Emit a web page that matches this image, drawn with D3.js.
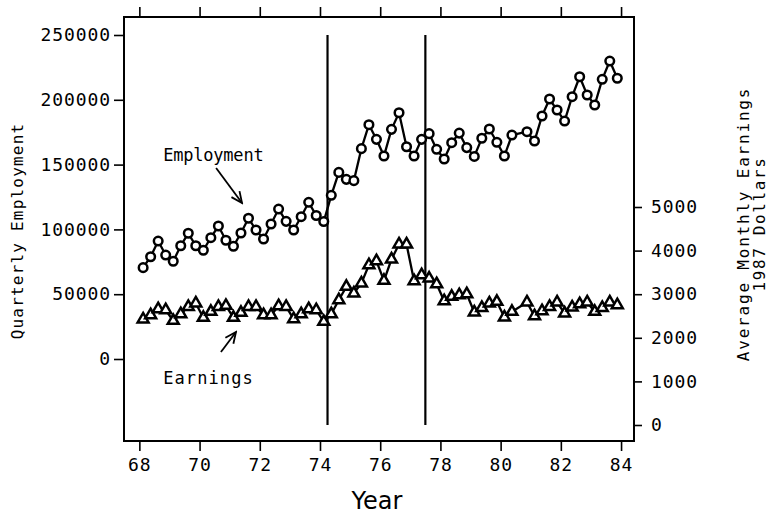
<!DOCTYPE html>
<html>
<head>
<meta charset="utf-8">
<script src="https://cdn.jsdelivr.net/npm/d3@7"></script>
<style>
  body { margin: 0; background: #fff; }
  svg { display: block; }
  .tick text { font-family: "DejaVu Sans Mono", monospace; font-size: 18px; letter-spacing: 0.9px; fill: #000; }
  .tick line { stroke: #000; stroke-width: 1.6; }
  .lbl { font-family: "DejaVu Sans Mono", monospace; font-size: 16px; fill: #000; }
</style>
</head>
<body>
<svg width="770" height="514"></svg>
<script>
// quarterly observations, centred in each quarter, 1968 - 1983
const quarters = d3.range(68, 84, 0.25).map(t => t + 0.125);

// quarterly employment (left axis); null = no marker visible
const employment = [
  70500, 78900, 91000, 80200, 75400, 87400, 97000, 87400,
  83900, 93600, 102600, 91600, 87000, 97200, 108600, 99500,
  92600, 104200, 115700, 106200, 99500, 109800, 120900, 110700,
  106100, 126300, 144000, 138600, 137600, 162300, 180800, 169500,
  156600, 177200, 190000, 163800, 156600, 169500, 173900, 161800,
  154300, 166900, 174300, 163100, 156300, 170300, 177500, 167200,
  156600, 172800, null, 175400, 168200, 187500, 200600, 192100,
  183600, 202400, 217800, 203700, 196000, 215800, 229900, 216600
];

// average monthly earnings, 1987 dollars (right axis)
const earnings = [
  2424, 2523, 2661, 2638, 2392, 2546, 2713, 2791,
  2461, 2599, 2713, 2736, 2461, 2576, 2713, 2713,
  2523, 2523, 2729, 2713, 2431, 2546, 2661, 2638,
  2369, 2546, 2867, 3172, 3021, 3250, 3670, 3760,
  3310, 3800, 4144, 4144, 3303, 3440, 3364, 3234,
  2844, 2943, 2982, 3005, 2585, 2690, 2791, 2828,
  2470, 2599, null, 2814, 2500, 2615, 2713, 2814,
  2562, 2700, 2775, 2814, 2599, 2690, 2814, 2752
];

const yearTicks = [68, 70, 72, 74, 76, 78, 80, 82, 84];
const empTicks = [0, 50000, 100000, 150000, 200000, 250000];
const earnTicks = [0, 1000, 2000, 3000, 4000, 5000];
const breaks = [74.25, 77.5];

const svg = d3.select("svg");

const x = d3.scaleLinear().domain([67.49, 84.43]).range([124, 634]);
const yEmp = d3.scaleLinear().domain([0, 250000]).range([359, 35]);
const yEarn = d3.scaleLinear().domain([0, 5000]).range([425, 207]);

const empData = quarters.map((t, i) => ({ t, v: employment[i] })).filter(d => d.v != null);
const earnData = quarters.map((t, i) => ({ t, v: earnings[i] })).filter(d => d.v != null);

// axes
svg.append("g")
    .attr("transform", "translate(124,0)")
    .call(d3.axisLeft(yEmp).tickValues(empTicks).tickSize(10).tickPadding(3).tickFormat(d3.format("d")))
    .call(g => g.select(".domain").remove());

svg.append("g")
    .attr("transform", "translate(634,0)")
    .call(d3.axisRight(yEarn).tickValues(earnTicks).tickSize(8).tickPadding(9).tickFormat(d3.format("d")))
    .call(g => g.select(".domain").remove());

svg.append("g")
    .attr("transform", "translate(0,441)")
    .call(d3.axisBottom(x).tickValues(yearTicks).tickSize(10).tickPadding(7).tickFormat(d3.format("d")))
    .call(g => g.select(".domain").remove());

svg.append("g")
    .attr("transform", "translate(0,17)")
    .call(d3.axisTop(x).tickValues(yearTicks).tickSize(10).tickFormat(""))
    .call(g => g.select(".domain").remove());

// frame
svg.append("rect")
    .attr("x", 124).attr("y", 17)
    .attr("width", 510).attr("height", 424)
    .attr("fill", "none").attr("stroke", "#000").attr("stroke-width", 2);

// break lines
svg.selectAll(".brk")
    .data(breaks)
    .enter().append("line")
    .attr("class", "brk")
    .attr("x1", d => x(d)).attr("x2", d => x(d))
    .attr("y1", yEmp(250000)).attr("y2", yEarn(0))
    .attr("stroke", "#000").attr("stroke-width", 2.2);

// series lines
svg.append("path")
    .datum(empData)
    .attr("fill", "none").attr("stroke", "#000").attr("stroke-width", 2.3)
    .attr("d", d3.line().x(d => x(d.t)).y(d => yEmp(d.v)));

svg.append("path")
    .datum(earnData)
    .attr("fill", "none").attr("stroke", "#000").attr("stroke-width", 2.3)
    .attr("d", d3.line().x(d => x(d.t)).y(d => yEarn(d.v)));

// markers
svg.selectAll(".emp")
    .data(empData)
    .enter().append("circle")
    .attr("class", "emp")
    .attr("cx", d => x(d.t)).attr("cy", d => yEmp(d.v))
    .attr("r", 4.3)
    .attr("fill", "#fff").attr("stroke", "#000").attr("stroke-width", 2.5);

const tri = d3.symbol().type(d3.symbolTriangle).size(52);
svg.selectAll(".earn")
    .data(earnData)
    .enter().append("path")
    .attr("class", "earn")
    .attr("transform", d => `translate(${x(d.t)},${yEarn(d.v)})`)
    .attr("d", tri)
    .attr("fill", "#fff").attr("stroke", "#000").attr("stroke-width", 2.5);

// arrow marker
svg.append("defs").append("marker")
    .attr("id", "arr")
    .attr("viewBox", "-12 -7 14 14")
    .attr("refX", 0).attr("refY", 0)
    .attr("markerWidth", 14).attr("markerHeight", 14)
    .attr("markerUnits", "userSpaceOnUse")
    .attr("orient", "auto")
    .append("path")
    .attr("d", "M-11,-5L0,0L-11,5")
    .attr("fill", "none").attr("stroke", "#000").attr("stroke-width", 1.8);

// annotations
svg.append("text")
    .attr("class", "lbl")
    .attr("x", x(68.79)).attr("y", yEmp(157400))
    .attr("dominant-baseline", "central")
    .style("font-size", "17px")
    .style("letter-spacing", "-0.2px")
    .text("Employment");

svg.append("line")
    .attr("x1", x(70.55)).attr("y1", yEmp(147400))
    .attr("x2", x(71.41)).attr("y2", yEmp(120400))
    .attr("stroke", "#000").attr("stroke-width", 1.8)
    .attr("marker-end", "url(#arr)");

svg.append("text")
    .attr("class", "lbl")
    .attr("x", x(68.79)).attr("y", yEarn(1078))
    .attr("dominant-baseline", "central")
    .style("font-size", "17px")
    .style("letter-spacing", "1.1px")
    .text("Earnings");

svg.append("line")
    .attr("x1", x(70.71)).attr("y1", yEarn(1674))
    .attr("x2", x(71.21)).attr("y2", yEarn(2133))
    .attr("stroke", "#000").attr("stroke-width", 1.8)
    .attr("marker-end", "url(#arr)");

// axis titles
svg.append("text")
    .attr("class", "lbl")
    .attr("transform", "translate(17,231) rotate(-90)")
    .attr("text-anchor", "middle")
    .attr("dominant-baseline", "central")
    .style("letter-spacing", "1.2px")
    .text("Quarterly Employment");

svg.append("text")
    .attr("class", "lbl")
    .attr("transform", "translate(743,224) rotate(-90)")
    .attr("text-anchor", "middle")
    .attr("dominant-baseline", "central")
    .style("letter-spacing", "1.8px")
    .text("Average Monthly Earnings");

svg.append("text")
    .attr("class", "lbl")
    .attr("transform", "translate(759,224) rotate(-90)")
    .attr("text-anchor", "middle")
    .attr("dominant-baseline", "central")
    .style("letter-spacing", "1.6px")
    .text("1987 Dollars");

svg.append("text")
    .attr("x", 377).attr("y", 509)
    .attr("text-anchor", "middle")
    .style("font-family", "DejaVu Sans, sans-serif")
    .style("font-size", "24px")
    .text("Year");
</script>
</body>
</html>
